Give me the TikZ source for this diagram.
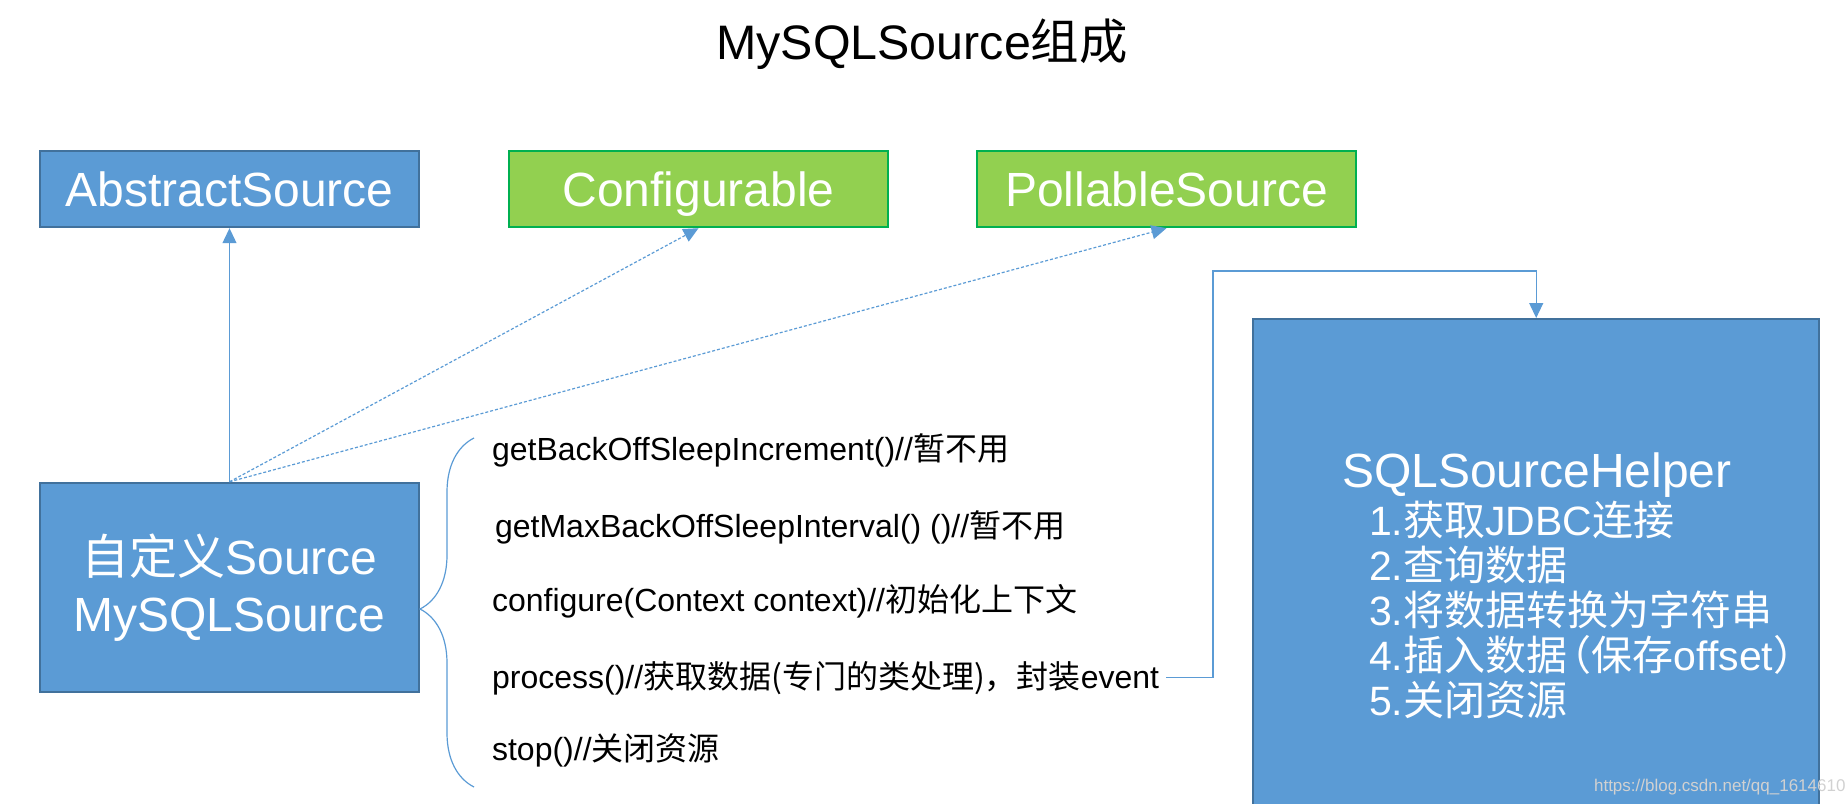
\documentclass[tikz,border=0pt]{standalone}
\usepackage{fontspec}
\setmainfont{Liberation Sans}
\newfontfamily\cjkfont{Noto Sans CJK SC}
\newfontfamily\cjkhalf[RawFeature=+halt]{Noto Sans CJK SC}
\newcommand{\zh}[1]{{\cjkfont #1}}
\newcommand{\zhhalf}[1]{{\cjkhalf #1}}
\usetikzlibrary{arrows.meta,decorations.pathreplacing}
\definecolor{boxblue}{HTML}{5B9BD5}
\definecolor{edgeblue}{HTML}{41719C}
\definecolor{boxgreen}{HTML}{92D050}
\definecolor{edgegreen}{HTML}{00B050}

\begin{document}
\begin{tikzpicture}[x=0.5pt, y=-0.5pt,
    classbox/.style={draw=edgeblue, fill=boxblue, line width=1.2pt, text=white,
      minimum width=189.5pt, minimum height=38pt, font=\fontsize{24}{28.5}\selectfont},
    headbox/.style={classbox, text height=17.2pt, text depth=0pt},
    ifacebox/.style={headbox, draw=edgegreen, fill=boxgreen},
    method/.style={anchor=base west, font=\fontsize{16}{19}\selectfont},
    stepline/.style={anchor=base west, text=white, font=\fontsize{20.5}{24}\selectfont},
    link/.style={draw=boxblue, line width=0.6pt, -{Triangle[width=7pt,length=7.5pt]}},
    impl/.style={link, dash pattern=on 1.5pt off 1pt}]
  \useasboundingbox (0,0) rectangle (1846,803);

  % Title
  \node[anchor=base, font=\fontsize{24.2}{29}\selectfont] (title) at (922,59) {MySQLSource\zh{组成}};

  % Parent class and the two interfaces
  \node[headbox] (abstract) at (229.5,189) {AbstractSource};
  \node[ifacebox] (config) at (698.5,189) {Configurable};
  \node[ifacebox] (pollable) at (1166.5,189) {PollableSource};

  % Own source
  \node[classbox, minimum height=104.5pt, align=center] (mysource) at (229.5,587.5)
    {\zh{自定义}Source\\MySQLSource};

  \draw[link] (mysource.north) -- (abstract.south);
  \draw[impl] (mysource.north) -- (config.south);
  \draw[impl] (mysource.north) -- (pollable.south);

  % Methods, grouped by a brace
  \draw[boxblue, line width=0.6pt, decorate, decoration={brace, amplitude=27pt, aspect=0.51}]
    (474,787) -- (474,438);
  \node[method] (m1) at (485,460) {getBackOffSleepIncrement()//\zh{暂不用}};
  \node[method] (m2) at (488,537) {getMaxBackOffSleepInterval() ()//\zh{暂不用}};
  \node[method] (m3) at (485,611) {configure(Context context)//\zh{初始化上下文}};
  \node[method] (m4) at (485,688) {process()//\zh{获取数据(专门的类处理)，封装}event};
  \node[method] (m5) at (485,760) {stop()//\zh{关闭资源}};

  % Helper class
  \node[classbox, minimum width=283pt, minimum height=262pt, anchor=north west] (helper) at (1252,318) {};
  \node[anchor=base west, text=white, font=\fontsize{24}{28}\selectfont] (helpername) at (1335,487) {SQLSourceHelper};
  \foreach \t [count=\i] in {\zh{获取}JDBC\zh{连接}, \zh{查询数据}, \zh{将数据转换为字符串},
      \zh{插入数据}\hspace{2pt}\zhhalf{（}\zh{保存}offset\zhhalf{）}, \zh{关闭资源}}
    \node[stepline] (step\i) at (1362,{535+45*(\i-1)}) {\i.\t};

  \coordinate (bend) at (1213,271);
  \draw[link] (m4.east) -| (bend) -| (helper.north);

  \node[anchor=base west, text=black!18, font=\fontsize{8.5}{10}\selectfont] (mark) at (1587,791) {https://blog.csdn.net/qq\_16146103};
\end{tikzpicture}
\end{document}
